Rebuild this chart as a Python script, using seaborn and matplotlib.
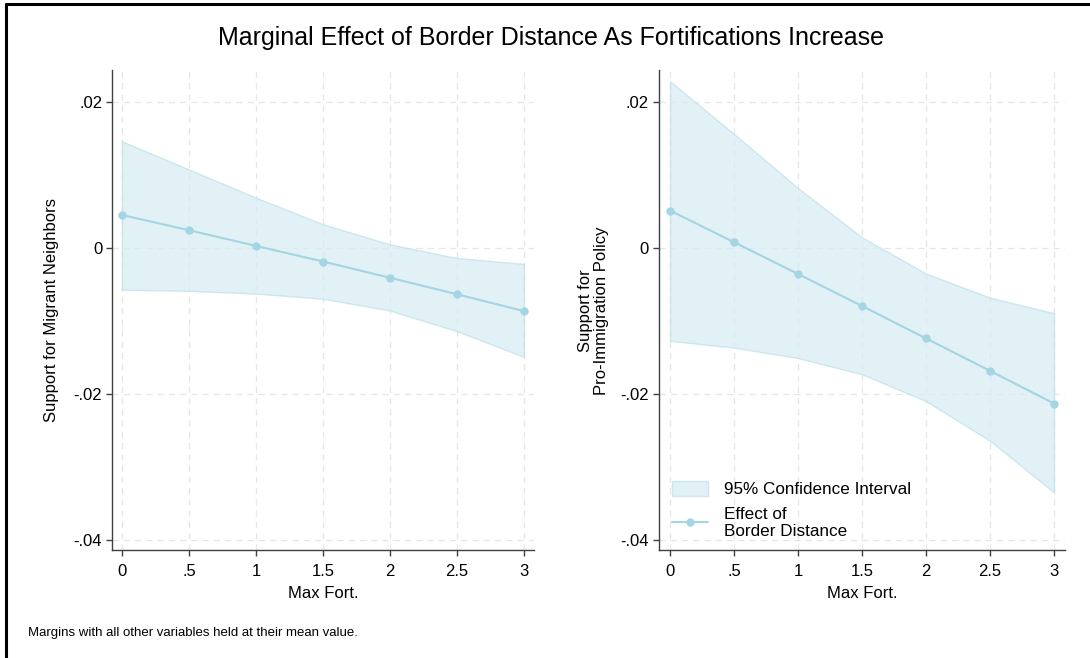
import matplotlib
matplotlib.use("Agg")
import matplotlib.pyplot as plt
import seaborn as sns
import pandas as pd
from matplotlib.patches import Patch
from matplotlib.lines import Line2D

# ---- data ----
max_fort = [0, 0.5, 1, 1.5, 2, 2.5, 3]
neigh_eff = [0.00453, 0.00245, 0.0003, -0.00184, -0.00406, -0.00632, -0.00863]
neigh_hi = [0.01462, 0.01076, 0.0069, 0.00326, 0.0005, -0.00137, -0.00217]
neigh_lo = [-0.0057, -0.00585, -0.00623, -0.00693, -0.00854, -0.01137, -0.0149]
policy_eff = [0.00514, 0.0008, -0.00354, -0.00793, -0.01236, -0.0168, -0.02128]
policy_hi = [0.02283, 0.01562, 0.00821, 0.00146, -0.00349, -0.00679, -0.00892]
policy_lo = [-0.01269, -0.01363, -0.01505, -0.01727, -0.02094, -0.02637, -0.03344]

x_ticks = [0, 0.5, 1, 1.5, 2, 2.5, 3]
x_ticklabels = ["0", ".5", "1", "1.5", "2", "2.5", "3"]
y_ticks = [0.02, 0, -0.02, -0.04]
y_ticklabels = [".02", "0", "-.02", "-.04"]

title = "Marginal Effect of Border Distance As Fortifications Increase"
ylabels = ["Support for Migrant Neighbors", "Support for\nPro-Immigration Policy"]
xlabel = "Max Fort."
note = "Margins with all other variables held at their mean value."

sns.set_theme(style="white")
plt.rcParams["font.family"] = ["Liberation Sans", "DejaVu Sans"]
plt.rcParams["text.color"] = "black"
plt.rcParams["axes.labelcolor"] = "black"

line_col = "#a3d5e2"
fill_col = "#d6ecf2"
edge_col = "#bfe0ea"

fig = plt.figure(figsize=(10.9, 6.58), dpi=100)
ax1 = fig.add_axes([0.103, 0.1634, 0.3865, 0.7298])
ax2 = fig.add_axes([0.6046, 0.1634, 0.3722, 0.7298])

panels = [
    (ax1, neigh_eff, neigh_hi, neigh_lo, (-0.072, 3.072)),
    (ax2, policy_eff, policy_hi, policy_lo, (-0.086, 3.084)),
]

for i, (ax, eff, hi, lo, xl) in enumerate(panels):
    df = pd.DataFrame({"x": max_fort, "y": eff})
    ax.fill_between(max_fort, lo, hi, facecolor=fill_col, edgecolor=edge_col,
                    linewidth=1.0, alpha=0.7, zorder=2)
    sns.lineplot(data=df, x="x", y="y", ax=ax, color=line_col, marker="o",
                 markersize=6, markeredgewidth=0, linewidth=1.5, zorder=3)
    ax.set_xlim(*xl)
    ax.set_ylim(-0.0414, 0.02434)
    ax.set_xticks(x_ticks)
    ax.set_xticklabels(x_ticklabels)
    ax.set_yticks(y_ticks)
    ax.set_yticklabels(y_ticklabels)
    ax.grid(True, linestyle=(0, (5, 4)), color="#e6e6e6", linewidth=0.9, zorder=0)
    ax.set_axisbelow(True)
    for s in ["top", "right"]:
        ax.spines[s].set_visible(False)
    for s in ["left", "bottom"]:
        ax.spines[s].set_color("#404040")
        ax.spines[s].set_linewidth(1.0)
    ax.tick_params(axis="both", which="both", direction="out", length=4.3, width=1,
                   color="#404040", labelsize=12, labelcolor="black",
                   left=True, bottom=True)
    ax.tick_params(axis="x", pad=5.5)
    ax.tick_params(axis="y", pad=3)
    ax.set_xlabel(xlabel, fontsize=12, labelpad=5, color="black")
    ax.set_ylabel(ylabels[i], fontsize=12, labelpad=10.3 if i == 0 else 8,
                  linespacing=1.1, color="black")

handles = [
    Patch(facecolor=fill_col, edgecolor=edge_col, alpha=0.7),
    Line2D([0], [0], color=line_col, marker="o", markersize=6, markeredgewidth=0, linewidth=1.5),
]
ax2.legend(handles, ["95% Confidence Interval", "Effect of\nBorder Distance"],
           loc="lower left", bbox_to_anchor=(-0.005, -0.008), frameon=False,
           fontsize=12.3, handlelength=2.1, handletextpad=0.9, labelspacing=0.55,
           handleheight=1.0, labelcolor="black")

fig.text(0.5055, 0.943, title, ha="center", va="center", fontsize=18, color="black")
fig.text(28 / 1090, 1 - 633 / 658, note, ha="left", va="center", fontsize=9.5, color="black")

# outer frame
fig.add_artist(Line2D([6 / 1090, 6 / 1090], [0, 1 - 4 / 658], transform=fig.transFigure,
                      color="black", linewidth=2.2))
fig.add_artist(Line2D([6 / 1090, 1], [1 - 4 / 658, 1 - 4 / 658], transform=fig.transFigure,
                      color="black", linewidth=2.2))

fig.savefig("out.png", dpi=100)
